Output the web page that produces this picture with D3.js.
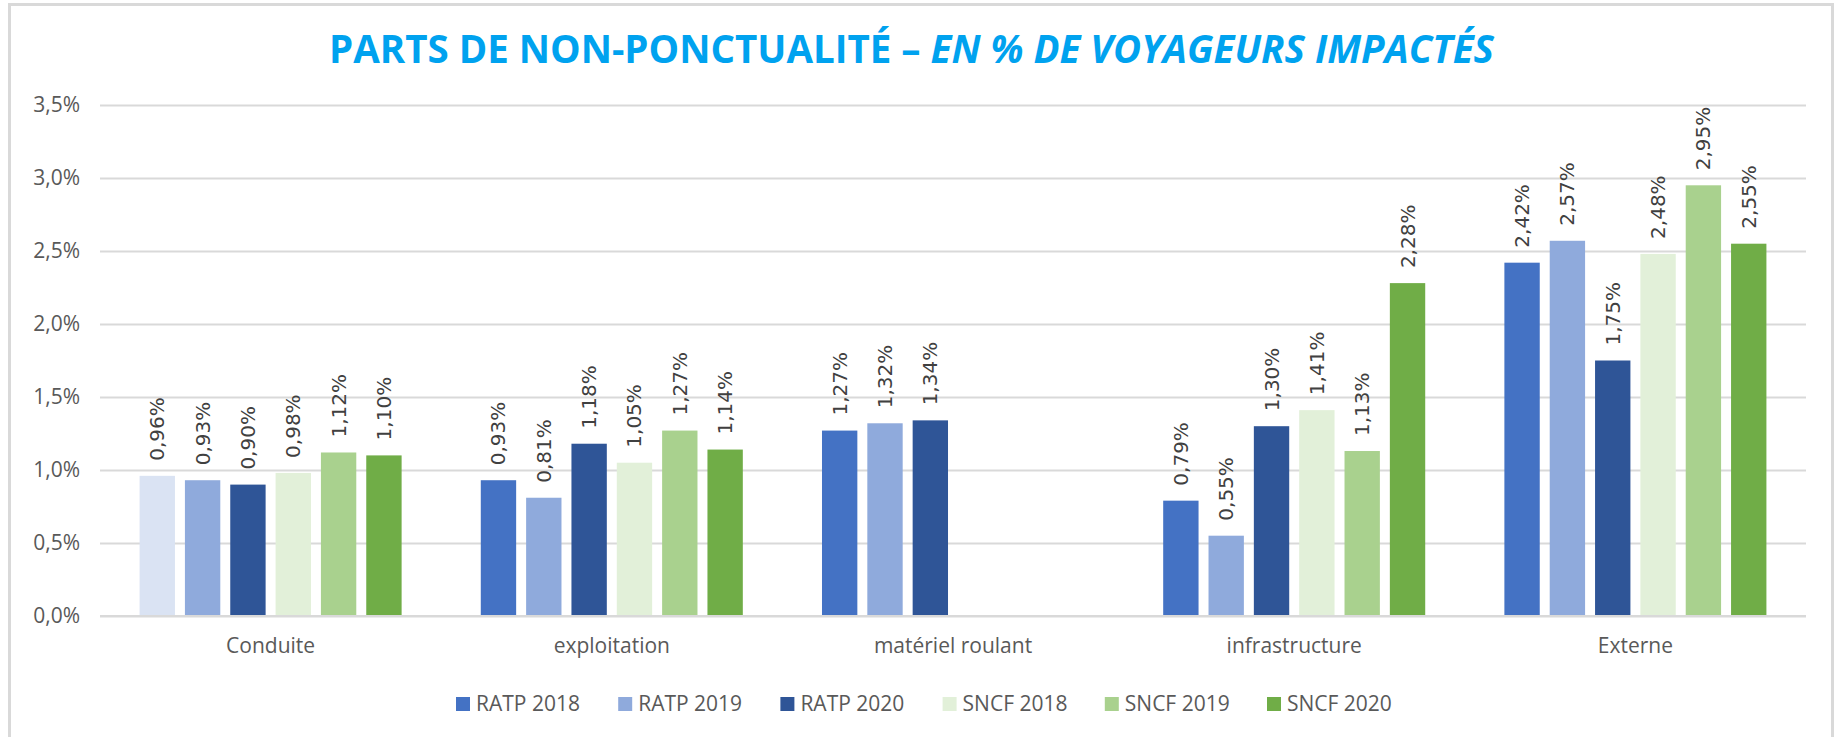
<!DOCTYPE html>
<html>
<head>
<meta charset="utf-8">
<script src="https://cdn.jsdelivr.net/npm/d3@7"></script>
<style>
	body { margin: 0; background: #ffffff; }
	svg { display: block; }
</style>
</head>
<body>
<svg id="chart"></svg>
<script>
// Data ======================================================================
var categories = ["Conduite", "exploitation", "matériel roulant", "infrastructure", "Externe"];
var seriesNames = ["RATP 2018", "RATP 2019", "RATP 2020", "SNCF 2018", "SNCF 2019", "SNCF 2020"];

var ratp2018 = [0.96, 0.93, 1.27, 0.79, 2.42];
var ratp2019 = [0.93, 0.81, 1.32, 0.55, 2.57];
var ratp2020 = [0.90, 1.18, 1.34, 1.30, 1.75];
var sncf2018 = [0.98, 1.05, null, 1.41, 2.48];
var sncf2019 = [1.12, 1.27, null, 1.13, 2.95];
var sncf2020 = [1.10, 1.14, null, 2.28, 2.55];

var yTicks = [0, 0.5, 1, 1.5, 2, 2.5, 3, 3.5];

var seriesValues = [ratp2018, ratp2019, ratp2020, sncf2018, sncf2019, sncf2020];
var seriesColors = ["#4472C4", "#8FAADC", "#2F5597", "#E2F0D9", "#A9D18E", "#70AD47"];
// the very first bar is drawn in a pale tint in the original
var pointOverrides = { "Conduite|RATP 2018": "#DAE3F3" };

// Layout ====================================================================
var W = 1839, H = 737;
var plot = { left: 100, right: 1806, top: 105, bottom: 616 };
var gridColor = "#d9d9d9";
var labelFont = "'Open Sans', 'DejaVu Sans', sans-serif";

var fr = d3.formatLocale({ decimal: ",", thousands: " ", grouping: [3], currency: ["", "€"] });
var tickFormat = function(d) { return fr.format(".1f")(d) + "%"; };
var valueFormat = function(d) { return fr.format(".2f")(d) + "%"; };

var svg = d3.select("#chart")
	.attr("width", W)
	.attr("height", H);

svg.append("rect")
	.attr("x", 0).attr("y", 0)
	.attr("width", W).attr("height", H)
	.attr("fill", "#ffffff");

// outer frame (bottom edge is cut off in the original)
svg.append("path")
	.attr("d", "M9.5,740 V4.5 H1832.5 V740")
	.attr("fill", "none")
	.attr("stroke", gridColor)
	.attr("stroke-width", 3);

// Scales ====================================================================
var x0 = d3.scaleBand()
	.domain(categories)
	.range([plot.left, plot.right])
	.paddingInner(0)
	.paddingOuter(0);

var groupWidth = 272;
var x1 = d3.scaleBand()
	.domain(seriesNames)
	.range([(x0.bandwidth() - groupWidth) / 2, (x0.bandwidth() + groupWidth) / 2])
	.paddingInner(0.22)
	.paddingOuter(0.11);

var yScale = d3.scaleLinear()
	.domain([0, 3.5])
	.range([plot.bottom, plot.top]);

// Grid + y axis =============================================================
var yAxis = d3.axisLeft(yScale)
	.tickValues(yTicks)
	.tickSize(-(plot.right - plot.left))
	.tickPadding(20)
	.tickFormat(tickFormat);

svg.append("g")
	.attr("class", "y-axis")
	.attr("transform", "translate(" + plot.left + ",0)")
	.call(yAxis)
	.call(function(g) {
		g.select(".domain").remove();
		g.selectAll(".tick line")
			.attr("stroke", gridColor)
			.attr("stroke-width", 2);
		g.selectAll(".tick text")
			.attr("font-family", labelFont)
			.attr("font-size", 21)
			.attr("fill", "#595959");
	});

// Bars ======================================================================
var rows = [];
categories.forEach(function(cat, i) {
	seriesNames.forEach(function(s, j) {
		rows.push({ cat: cat, series: s, value: seriesValues[j][i], color: seriesColors[j] });
	});
});
var present = rows.filter(function(d) { return d.value != null; });

var bars = svg.append("g").attr("class", "bars");

bars.selectAll("rect")
	.data(present)
	.enter()
	.append("rect")
	.attr("x", function(d) { return x0(d.cat) + x1(d.series); })
	.attr("y", function(d) { return yScale(d.value); })
	.attr("width", x1.bandwidth())
	.attr("height", function(d) { return yScale(0) - yScale(d.value); })
	.attr("fill", function(d) { return pointOverrides[d.cat + "|" + d.series] || d.color; });

bars.selectAll("text")
	.data(present)
	.enter()
	.append("text")
	.attr("transform", function(d) {
		var cx = x0(d.cat) + x1(d.series) + x1.bandwidth() / 2;
		return "translate(" + cx + "," + (yScale(d.value) - 15) + ") rotate(-90)";
	})
	.attr("dy", "0.35em")
	.attr("font-family", "'DejaVu Sans', sans-serif")
	.attr("font-size", 20)
	.attr("fill", "#404040")
	.text(function(d) { return valueFormat(d.value); });

// base line over the bars
svg.append("line")
	.attr("x1", plot.left).attr("x2", plot.right)
	.attr("y1", yScale(0)).attr("y2", yScale(0))
	.attr("stroke", gridColor)
	.attr("stroke-width", 2);

// Category axis =============================================================
var xAxis = d3.axisBottom(x0)
	.tickSize(0)
	.tickPadding(22);

svg.append("g")
	.attr("class", "x-axis")
	.attr("transform", "translate(0," + plot.bottom + ")")
	.call(xAxis)
	.call(function(g) {
		g.select(".domain").remove();
		g.selectAll(".tick text")
			.attr("font-family", labelFont)
			.attr("font-size", 21)
			.attr("fill", "#595959");
	});

// Legend ====================================================================
var legendX = d3.scalePoint()
	.domain(seriesNames)
	.range([456, 1267]);

var legend = svg.append("g").attr("class", "legend");
var items = legend.selectAll("g")
	.data(seriesNames)
	.enter()
	.append("g")
	.attr("transform", function(d) { return "translate(" + legendX(d) + ",704)"; });

items.append("rect")
	.attr("x", 0).attr("y", -7)
	.attr("width", 14).attr("height", 14)
	.attr("fill", function(d, i) { return seriesColors[i]; });

items.append("text")
	.attr("x", 20)
	.attr("dy", "0.35em")
	.attr("font-family", labelFont)
	.attr("font-size", 21)
	.attr("fill", "#595959")
	.text(function(d) { return d; });

// Title =====================================================================
var title = svg.append("text")
	.attr("x", 329)
	.attr("y", 63)
	.attr("font-family", "'Open Sans', sans-serif")
	.attr("font-weight", "bold")
	.attr("font-size", 40)
	.attr("fill", "#00A2EF")
	.attr("textLength", 1165)
	.attr("lengthAdjust", "spacingAndGlyphs");

title.append("tspan").text("PARTS DE NON-PONCTUALITÉ – ");
title.append("tspan").attr("font-style", "italic").text("EN % DE VOYAGEURS IMPACTÉS");
</script>
</body>
</html>
